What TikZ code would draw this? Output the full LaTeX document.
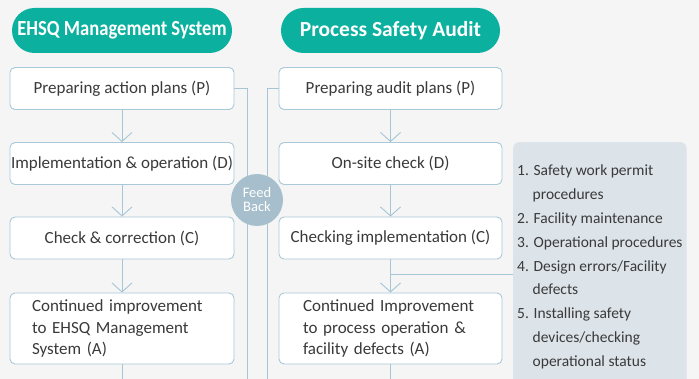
\documentclass[tikz,border=0pt]{standalone}
\usepackage{fontspec}
\usepackage{graphicx}
\setmainfont{Carlito}
\usetikzlibrary{arrows.meta}

\definecolor{pagebg}{HTML}{F5F5F5}
\definecolor{titlegreen}{HTML}{0BB09E}
\definecolor{boxedge}{HTML}{A9C8D8}
\definecolor{linegray}{HTML}{A6C5D5}
\definecolor{fbfill}{HTML}{A7BFCC}
\definecolor{listfill}{HTML}{DCE3E9}
\definecolor{textgray}{HTML}{3A3A3A}

\tikzset{
  title/.style={fill=titlegreen, rounded corners=22.5pt, minimum height=45pt, inner sep=0pt,
    text=white, font=\bfseries\fontsize{21.5}{24}\selectfont},
  stepbox/.style={draw=boxedge, line width=0.9pt, fill=white, rounded corners=5pt, minimum height=42pt,
    inner sep=0pt, text=textgray, font=\fontsize{17}{21.5}\selectfont},
  flow/.style={draw=linegray, line width=0.9pt, -{Straight Barb[length=9pt,width=20pt]}},
  fbline/.style={draw=linegray, line width=0.9pt},
  fbcircle/.style={circle, fill=fbfill, minimum size=52pt, inner sep=0pt, text=white,
    align=center, font=\fontsize{14.5}{14}\selectfont},
  listbox/.style={fill=listfill, rounded corners=6pt, minimum width=173pt, inner xsep=4pt,
    inner ysep=23pt, align=left, text=textgray, font=\fontsize{15.5}{23.8}\selectfont}
}

\begin{document}
\begin{tikzpicture}[x=1pt, y=-1pt]
    % Page background
    \fill[pagebg] (0,0) rectangle (699,379);
    \useasboundingbox (0,0) rectangle (699,379);
    \clip (0,0) rectangle (699,379);

    % Titles
    \node[title, minimum width=220pt] (ehsq) at (122,30.5) {\scalebox{0.865}[1]{EHSQ Management System}};
    \node[title, minimum width=219pt] (psa) at (390.5,30.5) {Process Safety Audit};

    % Left column
    \node[stepbox, minimum width=224pt] (plan) at (122,88.5) {Preparing action plans (P)};
    \node[stepbox, minimum width=224pt] (do) at (122,163.5) {Implementation \& operation (D)};
    \node[stepbox, minimum width=224pt] (check) at (122,238) {Check \& correction (C)};
    \node[stepbox, minimum width=224pt, minimum height=71pt, text width=180pt, inner xsep=22pt,
      align=left] (act) at (122,328.5) {Continued improvement\\to EHSQ Management\\System (A)};

    % Right column
    \node[stepbox, minimum width=223pt] (auditplan) at (390.5,88.5) {Preparing audit plans (P)};
    \node[stepbox, minimum width=223pt] (onsite) at (390.5,163.5) {On-site check (D)};
    \node[stepbox, minimum width=223pt] (auditcheck) at (390.5,238) {Checking implementation (C)};
    \node[stepbox, minimum width=223pt, minimum height=71pt, text width=175pt, inner xsep=24pt,
      align=left] (auditact) at (390.5,328.5) {Continued Improvement\\to process operation \&\\facility defects (A)};

    % Check list
    \node[listbox, anchor=north west] (list) at (513,142) {1. Safety work permit\\\hspace*{15.5pt}procedures\\2. Facility maintenance\\3. Operational procedures\\4. Design errors/Facility\\\hspace*{15.5pt}defects\\5. Installing safety\\\hspace*{15.5pt}devices/checking\\\hspace*{15.5pt}operational status};

    % Flow arrows
    \draw[flow] (plan.south) -- (do.north);
    \draw[flow] (do.south) -- (check.north);
    \draw[flow] (check.south) -- (act.north);
    \draw[flow] (auditplan.south) -- (onsite.north);
    \draw[flow] (onsite.south) -- (auditcheck.north);
    \draw[flow] (auditcheck.south) -- (auditact.north);

    % Lines leaving at the bottom
    \coordinate (leftend) at (122,390);
    \coordinate (rightend) at (390.5,390);
    \draw[fbline] (act.south) -- (leftend);
    \draw[fbline] (auditact.south) -- (rightend);

    % Branch to the check list
    \coordinate (branch) at (390.5,274);
    \draw[fbline] (branch) -- (branch -| list.west);

    % Feedback lines and circle
    \coordinate (fbleft) at (247,390);
    \coordinate (fbright) at (267,390);
    \draw[fbline] (plan.east) -| (fbleft);
    \draw[fbline] (auditplan.west) -| (fbright);
    \node[fbcircle] (fb) at (257,200) {Feed\\Back};
\end{tikzpicture}
\end{document}
